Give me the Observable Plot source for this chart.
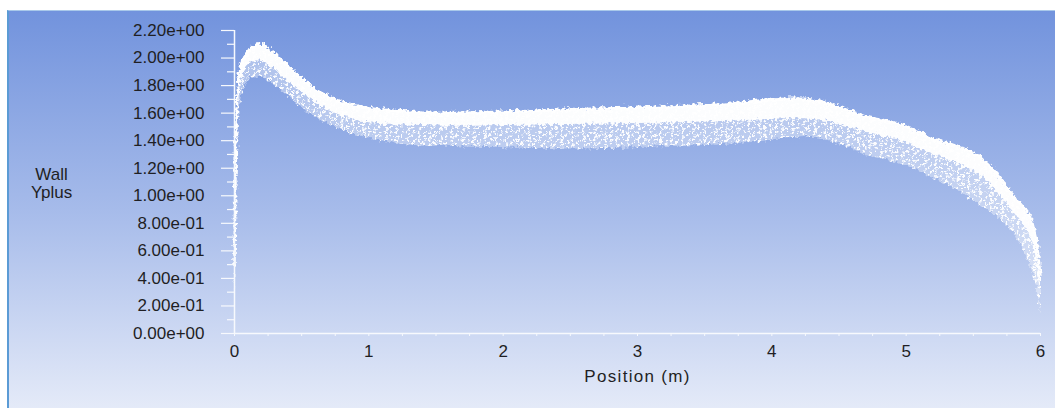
<!DOCTYPE html>
<html>
<head>
<meta charset="utf-8">
<script src="https://cdn.jsdelivr.net/npm/d3@7"></script>
<script src="https://cdn.jsdelivr.net/npm/@observablehq/plot@0.6"></script>
<style>
  html, body { margin: 0; padding: 0; background: #ffffff; width: 1055px; height: 408px; overflow: hidden; }
  #frame {
    position: absolute; left: 7px; top: 10px; width: 1048px; height: 398px;
    box-sizing: border-box;
    border-left: 2px solid #5b9bd5; border-top: 1px solid #a9c9ea;
    background: linear-gradient(to bottom, #7293dd 0%, #a6bbea 50%, #e4eaf8 100%);
  }
  #frame svg { display: block; }
</style>
</head>
<body>
<div id="frame"></div>
<script>
// Position (m) samples along the wall
const position = [0.000, 0.005, 0.012, 0.020, 0.030, 0.050, 0.080, 0.120, 0.170, 0.220,
  0.300, 0.400, 0.500, 0.600, 0.700, 0.800, 0.900, 1.000, 1.200, 1.400,
  1.600, 1.800, 2.000, 2.300, 2.600, 3.000, 3.300, 3.600, 3.900, 4.100,
  4.250, 4.350, 4.460, 4.600, 4.710, 4.850, 4.960, 5.100, 5.200, 5.350,
  5.460, 5.550, 5.650, 5.750, 5.800, 5.870, 5.930, 5.970, 6.000];
// Upper edge of the Wall Yplus point cloud
const yplusTop = [0.50, 1.00, 1.45, 1.70, 1.84, 1.96, 2.02, 2.07, 2.10, 2.09,
  2.03, 1.94, 1.85, 1.77, 1.72, 1.68, 1.655, 1.635, 1.615, 1.605,
  1.60, 1.605, 1.61, 1.62, 1.63, 1.64, 1.65, 1.66, 1.69, 1.705,
  1.705, 1.69, 1.656, 1.61, 1.57, 1.545, 1.52, 1.46, 1.41, 1.37,
  1.33, 1.28, 1.19, 1.06, 1.00, 0.92, 0.84, 0.68, 0.42];
// Lower edge of the dense (solid) part of the cloud
const yplusDense = [0.35, 0.60, 1.10, 1.50, 1.72, 1.86, 1.92, 1.97, 1.98, 1.97,
  1.92, 1.83, 1.75, 1.68, 1.62, 1.58, 1.55, 1.53, 1.515, 1.51,
  1.505, 1.505, 1.51, 1.515, 1.52, 1.525, 1.53, 1.54, 1.55, 1.56,
  1.56, 1.55, 1.53, 1.49, 1.46, 1.43, 1.40, 1.34, 1.30, 1.25,
  1.20, 1.15, 1.06, 0.94, 0.88, 0.79, 0.70, 0.55, 0.30];
// Lower edge of the sparse scattered points
const yplusLow = [0.30, 0.40, 0.70, 1.15, 1.55, 1.72, 1.80, 1.85, 1.86, 1.86,
  1.80, 1.72, 1.64, 1.57, 1.52, 1.48, 1.44, 1.42, 1.38, 1.36,
  1.36, 1.35, 1.35, 1.34, 1.34, 1.35, 1.36, 1.37, 1.39, 1.42,
  1.43, 1.42, 1.39, 1.34, 1.29, 1.26, 1.23, 1.18, 1.13, 1.06,
  0.99, 0.93, 0.87, 0.78, 0.73, 0.62, 0.48, 0.35, 0.15];

const xTicks = [0, 1, 2, 3, 4, 5, 6];
const xTickLabels = ["0", "1", "2", "3", "4", "5", "6"];
const xMinorTicks = [0.25, 0.5, 0.75, 1.25, 1.5, 1.75, 2.25, 2.5, 2.75, 3.25, 3.5, 3.75,
  4.25, 4.5, 4.75, 5.25, 5.5, 5.75];
const yTicks = [0, 0.2, 0.4, 0.6, 0.8, 1.0, 1.2, 1.4, 1.6, 1.8, 2.0, 2.2];
const yTickLabels = ["0.00e+00", "2.00e-01", "4.00e-01", "6.00e-01", "8.00e-01", "1.00e+00",
  "1.20e+00", "1.40e+00", "1.60e+00", "1.80e+00", "2.00e+00", "2.20e+00"];
const yMinorTicks = [0.1, 0.3, 0.5, 0.7, 0.9, 1.1, 1.3, 1.5, 1.7, 1.9, 2.1];
const xTitle = "Position (m)";
const yTitle = "Wall\nYplus";

const rows = position.map((x, i) => ({x, top: yplusTop[i], dense: yplusDense[i], low: yplusLow[i]}));
const xLabel = new Map(xTicks.map((v, i) => [v, xTickLabels[i]]));
const yLabel = new Map(yTicks.map((v, i) => [v, yTickLabels[i]]));

const textColor = "#1f1f24";
const axisColor = "#f7f9fd";
const plot = Plot.plot({
  width: 1046,
  height: 397,
  marginLeft: 225,
  marginRight: 15,
  marginTop: 19,
  marginBottom: 75,
  style: {background: "transparent", fontFamily: "'Liberation Sans', Arial, sans-serif", fontSize: "17px", color: textColor},
  x: {domain: [0, 6]},
  y: {domain: [0, 2.2]},
  marks: [
    Plot.areaY(rows, {x: "x", y1: "low", y2: "top", fill: "url(#speckle)"}),
    Plot.areaY(rows, {x: "x", y1: "dense", y2: "top", fill: "#ffffff", fillOpacity: 0.96}),
    Plot.lineY(rows, {x: "x", y: "top", stroke: "#ffffff", strokeWidth: 2.5}),
    Plot.ruleX([0], {stroke: axisColor, strokeWidth: 1.5}),
    Plot.ruleY([0], {stroke: axisColor, strokeWidth: 1.5}),
    Plot.axisY({ticks: yMinorTicks, tickSize: 7, text: null, label: null, stroke: axisColor, strokeWidth: 1.2}),
    Plot.axisY({ticks: yTicks, tickSize: 13, tickPadding: 17, tickFormat: d => yLabel.get(d),
      stroke: axisColor, strokeWidth: 1.2, fill: textColor, label: null}),
    Plot.axisX({ticks: xMinorTicks, tickSize: 3, text: null, label: null, stroke: axisColor, strokeWidth: 1}),
    Plot.axisX({ticks: xTicks, tickSize: 3, tickPadding: 8, tickFormat: d => xLabel.get(d),
      stroke: axisColor, strokeWidth: 1, fill: textColor, label: null}),
    Plot.text([xTitle], {text: d => d, frameAnchor: "bottom", dy: 43, lineAnchor: "middle",
      fill: textColor, fontSize: 17}),
    Plot.text([yTitle], {text: d => d, frameAnchor: "left", dx: -183, dy: 1, textAnchor: "middle",
      lineAnchor: "middle", lineHeight: 1.05, fill: textColor, fontSize: 17})
  ]
});

const ns = "http://www.w3.org/2000/svg";
const defs = document.createElementNS(ns, "defs");
defs.innerHTML = `
<pattern id="speckle" width="11" height="8" patternUnits="userSpaceOnUse">
  <rect width="11" height="8" fill="#ffffff" fill-opacity="0.38"/>
  <path d="M1,1.5h3M2.5,0v3 M6,4.5h3M7.5,3v3 M2,6h3M3.5,4.5v3 M8,0.5h2.5M9.2,-0.8v2.6" stroke="#ffffff" stroke-width="1.3" stroke-opacity="0.95" fill="none"/>
</pattern>
<filter id="rough" x="-2%" y="-10%" width="104%" height="120%">
  <feTurbulence type="fractalNoise" baseFrequency="0.3" numOctaves="2" seed="7" result="noise"/>
  <feDisplacementMap in="SourceGraphic" in2="noise" scale="7" xChannelSelector="R" yChannelSelector="G"/>
</filter>`;
plot.prepend(defs);
plot.querySelectorAll('g[aria-label="area"], g[aria-label="line"]').forEach(g => g.setAttribute("filter", "url(#rough)"));
plot.querySelectorAll("text").forEach(t => {
  if (t.textContent === xTitle) t.setAttribute("letter-spacing", "1.3");
});
document.getElementById("frame").appendChild(plot);
</script>
</body>
</html>
